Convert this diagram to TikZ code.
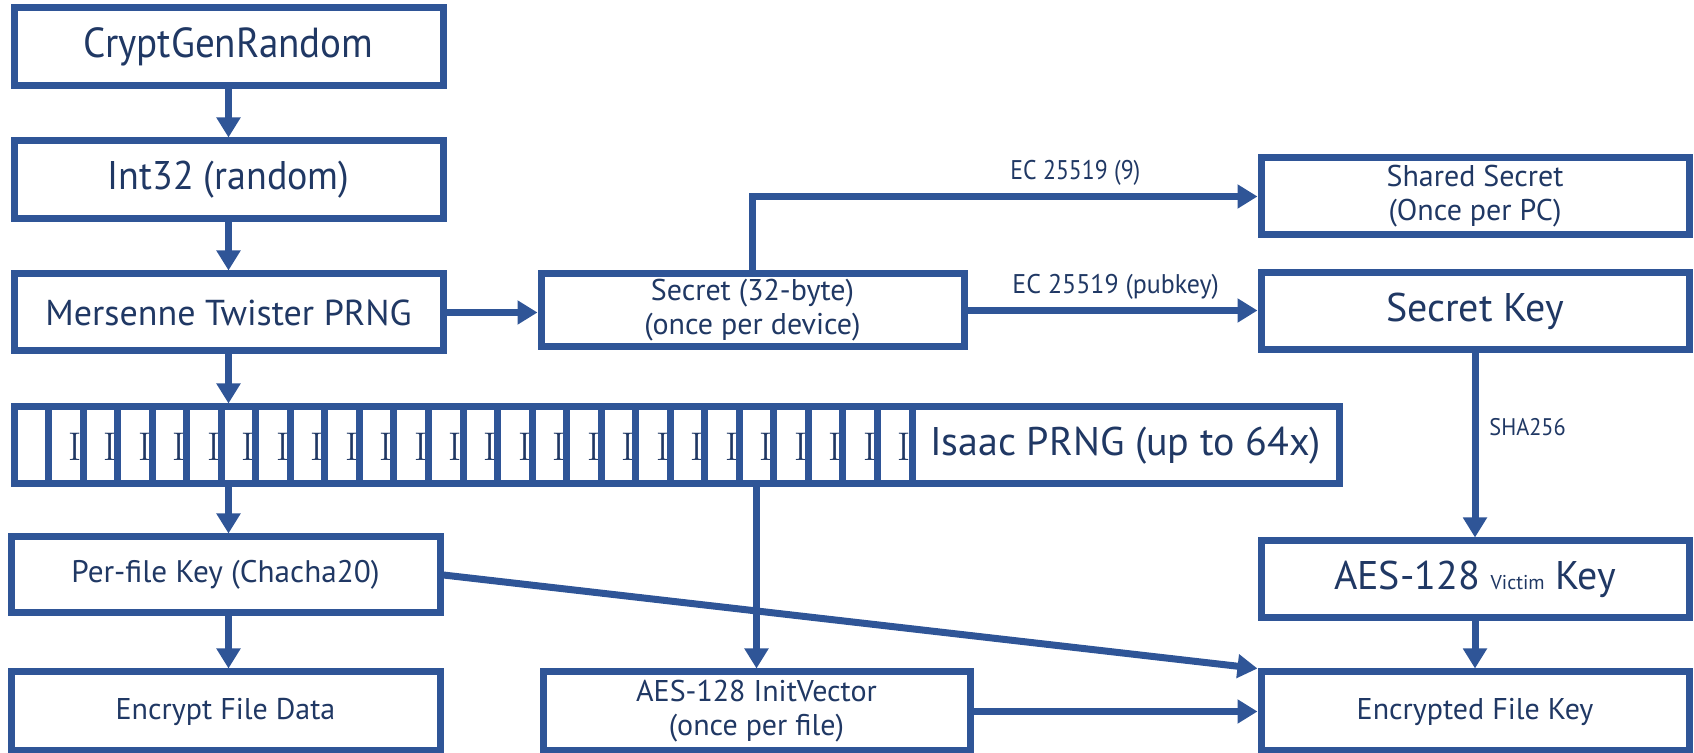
\documentclass[tikz,border=0pt]{standalone}
\usepackage{fontspec}
\newfontfamily\ptsans{PT Sans}
\usetikzlibrary{arrows.meta,calc}
\definecolor{bd}{HTML}{2F5597}
\definecolor{tx}{HTML}{203864}
\newcommand\sqz[2]{\scalebox{#1}[1]{#2}}
\begin{document}
\begin{tikzpicture}[x=0.5pt,y=-0.5pt,
  bx/.style 2 args={draw=bd,line width=3.5pt,fill=white,rectangle,inner sep=0pt,
     minimum width=#1,minimum height=#2,text=tx,align=center},
  mid/.style={font=\ptsans\fontsize{15}{17}\selectfont},
  lbl/.style={font=\ptsans\fontsize{13.5}{15}\selectfont,text=tx,inner sep=0pt},
  arr/.style={draw=bd,line width=3.5pt,-{Triangle[width=11.5pt,length=10pt]}},
  stk/.style={bx={213.5pt}{38.5pt}}]
\useasboundingbox (0,0) rectangle (1694,753);
% left column
\node[bx={214.5pt}{39pt},font=\ptsans\fontsize{21}{25}\selectfont] (crypt) at (228.5,47) {\sqz{0.93}{CryptGenRandom}};
\node[bx={214.5pt}{39pt},font=\ptsans\fontsize{20}{24}\selectfont] (int32) at (228.5,180) {\sqz{0.95}{Int32 (random)}};
\node[bx={214.5pt}{38.5pt},font=\ptsans\fontsize{18}{22}\selectfont] (mt) at (228.5,312.5) {Mersenne Twister PRNG};
% Isaac stack
\node[inner sep=0pt,outer sep=1.75pt,minimum width=662.5pt,minimum height=38.5pt] (stack) at (676.5,445.5) {};
\foreach \i in {0,...,25} {
  \pgfmathsetmacro\xl{14+\i*34.54}
  \node[stk] (isb\i) at (\xl+213.5,445.5) {};
  \ifnum\i>0
    \node[text=tx,inner sep=0pt,font=\fontsize{20}{20}\selectfont] (isi\i) at (\xl+27,447) {I};
  \fi
}
\node[stk,font=\ptsans\fontsize{20}{24}\selectfont] (isaac) at (1125.5,445.5) {Isaac PRNG (up to 64x)};
\node[bx={214.5pt}{38pt},font=\ptsans\fontsize{15.6}{18}\selectfont] (perfile) at (225.5,575) {Per-file Key (Chacha20)};
\node[bx={214.5pt}{39.5pt},mid] (encfile) at (225.5,711.5) {Encrypt File Data};
% middle
\node[bx={211.5pt}{36.5pt},mid] (secret) at (752.5,310.5) {Secret (32-byte)\\(once per device)};
\node[bx={213.5pt}{39.5pt},mid] (iv) at (756.5,711.5) {AES-128 InitVector\\(once per file)};
% right column
\node[bx={214pt}{38.5pt},mid] (shared) at (1475,196.5) {Shared Secret\\(Once per PC)};
\node[bx={214pt}{38.5pt},font=\ptsans\fontsize{20}{24}\selectfont] (skey) at (1475,311.5) {Secret Key};
\node[bx={214pt}{38.5pt},font=\ptsans\fontsize{20}{24}\selectfont] (aesv) at (1475,579.5) {AES-128 {\fontsize{10}{12}\selectfont Victim} Key};
\node[bx={214pt}{39.5pt},mid] (efk) at (1475,711.5) {Encrypted File Key};
% labels
\node[lbl,anchor=west] (lab1) at (1010,173) {\sqz{0.88}{EC 25519 (9)}};
\node[lbl,anchor=west] (lab2) at (1012,287) {\sqz{0.96}{EC 25519 (pubkey)}};
\node[lbl,anchor=west,font=\ptsans\fontsize{12}{14}\selectfont] (lab3) at (1489,427) {\sqz{0.93}{SHA256}};
% connectors
\draw[arr] (crypt) -- (int32);
\draw[arr] (int32) -- (mt);
\draw[arr] (mt) -- (mt.south |- stack.north);
\draw[arr] (mt.south |- stack.south) -- (mt.south |- perfile.north);
\draw[arr] (mt.south |- perfile.south) -- (mt.south |- encfile.north);
\draw[arr] (iv.north |- stack.south) -- (iv.north);
\draw[arr] (mt.east) -- (mt.east -| secret.west);
\draw[arr] (secret.north) -- (secret.north |- shared.west) -- (shared.west);
\draw[arr] (secret.east) -- (secret.east -| skey.west);
\draw[arr] (skey) -- (aesv);
\draw[arr] (aesv) -- (efk);
\draw[arr] (iv.east) -- (iv.east -| efk.west);
\draw[arr] (perfile.east) -- (efk.north west);
\end{tikzpicture}
\end{document}
